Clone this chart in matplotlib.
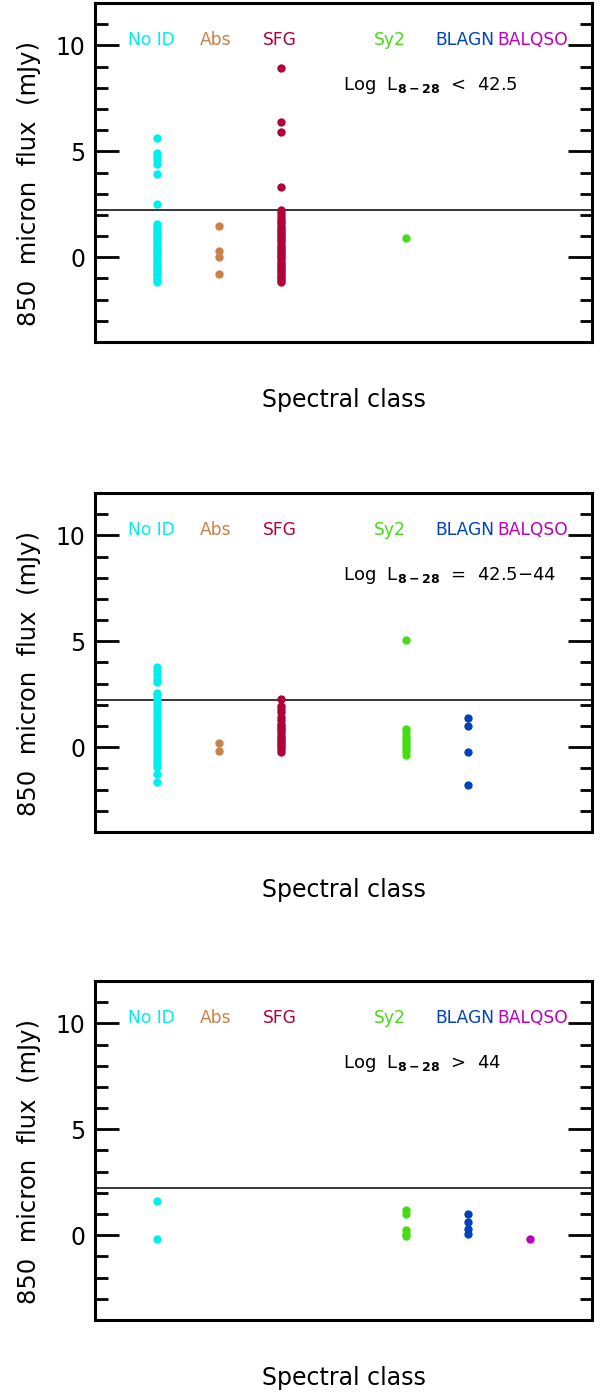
import matplotlib.pyplot as plt
import numpy as np

plt.rcParams['font.family'] = ['DejaVu Sans']
plt.rcParams['mathtext.fontset'] = 'dejavusans'

# spectral classes and their x positions
classes = ['No ID', 'Abs', 'SFG', 'Sy2', 'BLAGN', 'BALQSO']
class_x = [1, 2, 3, 5, 6, 7]
label_x = [0.90, 1.95, 2.97, 4.75, 5.95, 7.05]
colors = ['#00EEEE', '#C8824A', '#B20038', '#44DD11', '#0044BB', '#BB00BB']

# panel 1: Log L < 42.5
low_noid = [5.61, 4.94, 4.80, 4.66, 4.39, 3.95, 2.50,
            1.56, 1.45, 1.35, 1.25, 1.15, 1.05, 0.95, 0.85, 0.75, 0.65,
            0.55, 0.45, 0.35, 0.25, 0.15, 0.05, -0.05, -0.15, -0.25,
            -0.35, -0.45, -0.55, -0.65, -0.75, -0.85, -0.95, -1.05, -1.16]
low_abs = [1.46, 0.28, 0.02, -0.77]
low_sfg = [8.93, 6.38, 5.90, 3.30,
           2.25, 2.10, 1.95, 1.80, 1.70, 1.60, 1.50, 1.40, 1.30, 1.20,
           1.10, 1.00, 0.90, 0.80, 0.70, 0.60, 0.50, 0.40, 0.30, 0.20,
           0.10, 0.00, -0.10, -0.20, -0.30, -0.40, -0.50, -0.60, -0.70,
           -0.80, -0.90, -1.00, -1.08, -1.16]
low_sy2 = [0.91]
low_blagn = []
low_balqso = []

# panel 2: Log L = 42.5-44
mid_noid = [3.80, 3.59, 3.41, 3.20, 3.09,
            2.58, 2.45, 2.30, 2.15, 2.00, 1.85, 1.70, 1.55, 1.40, 1.25,
            1.10, 0.95, 0.80, 0.65, 0.50, 0.35, 0.20, 0.05, -0.10, -0.25,
            -0.40, -0.55, -0.70, -0.85, -0.94, -1.25, -1.66]
mid_abs = [0.20, -0.16]
mid_sfg = [2.27, 1.95, 1.80, 1.65, 1.45, 1.30, 1.10, 1.00, 0.90, 0.80,
           0.70, 0.60, 0.50, 0.40, 0.30, 0.20, 0.10, 0.00, -0.10, -0.23]
mid_sy2 = [5.08, 0.86, 0.70, 0.55, 0.40, 0.25, 0.10, -0.05, -0.20, -0.39]
mid_blagn = [1.36, 1.00, -0.23, -1.77]
mid_balqso = []

# panel 3: Log L > 44
high_noid = [1.60, -0.20]
high_abs = []
high_sfg = []
high_sy2 = [1.17, 1.02, 0.24, 0.05, -0.05]
high_blagn = [1.02, 0.63, 0.31, 0.08]
high_balqso = [-0.19]

panels = [
    ([low_noid, low_abs, low_sfg, low_sy2, low_blagn, low_balqso],
     r'Log  L$_{\mathbf{8-28}}$  <  42.5'),
    ([mid_noid, mid_abs, mid_sfg, mid_sy2, mid_blagn, mid_balqso],
     r'Log  L$_{\mathbf{8-28}}$  =  42.5$-$44'),
    ([high_noid, high_abs, high_sfg, high_sy2, high_blagn, high_balqso],
     r'Log  L$_{\mathbf{8-28}}$  >  44'),
]
limit = 2.25

fig = plt.figure(figsize=(6.12, 13.95), dpi=100)
bottoms = [0.7548, 0.4036, 0.0538]

for (groups, title), b in zip(panels, bottoms):
    ax = fig.add_axes([0.1552, b, 0.812, 0.243])
    for xi, vals, c in zip(class_x, groups, colors):
        if len(vals):
            ax.plot(np.full(len(vals), xi), vals, 'o', color=c, ms=6.0,
                    mec=c, mew=0, zorder=3)
    ax.axhline(limit, color='black', lw=1.1, zorder=2)
    for lx, name, c in zip(label_x, classes, colors):
        ax.text(lx, 10.25, name, color=c, fontsize=12.3, ha='center', va='center')
    ax.text(4.0, 8.1, title, fontsize=13, ha='left', va='center')

    ax.set_xlim(0, 8)
    ax.set_ylim(-4, 12)
    ax.set_xticks([])
    ax.set_yticks([0, 5, 10])
    ax.set_yticks(np.arange(-3, 12, 1), minor=True)
    ax.tick_params(axis='y', which='major', direction='in', length=17, width=2,
                   left=True, right=True, labelsize=17, pad=7)
    ax.tick_params(axis='y', which='minor', direction='in', length=9, width=2,
                   left=True, right=True)
    for s in ax.spines.values():
        s.set_linewidth(2.2)
    ax.set_ylabel('850  micron  flux  (mJy)', fontsize=17.5)
    ax.yaxis.set_label_coords(-0.133, 0.467)
    ax.set_xlabel('Spectral class', fontsize=17)
    ax.xaxis.set_label_coords(0.5, -0.171)
    ax.xaxis.label.set_va('center')
    ax.yaxis.label.set_va('center')

fig.savefig('out.png', dpi=100)
